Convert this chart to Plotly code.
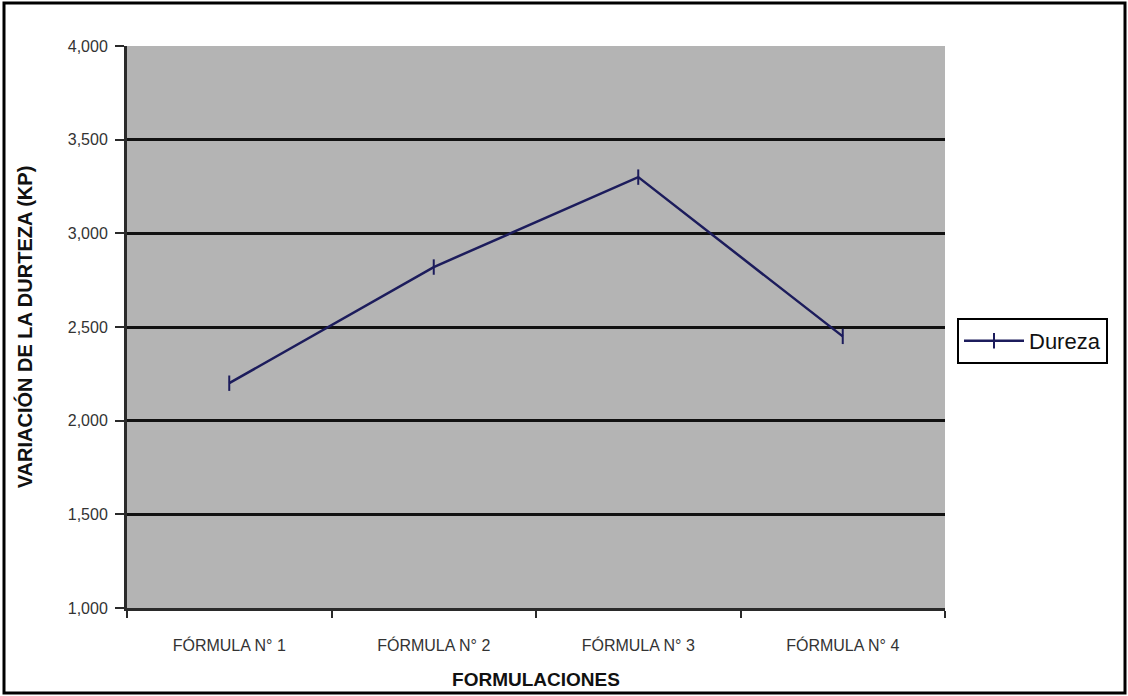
import plotly.graph_objects as go

# Hardness by formulation
formulas = ["FÓRMULA N° 1", "FÓRMULA N° 2", "FÓRMULA N° 3", "FÓRMULA N° 4"]
dureza = [2.20, 2.82, 3.30, 2.45]
y_ticks = [1.0, 1.5, 2.0, 2.5, 3.0, 3.5, 4.0]
y_tick_labels = ["1,000", "1,500", "2,000", "2,500", "3,000", "3,500", "4,000"]

W, H = 1128, 696
ML, MR, MT, MB = 127, 183, 46, 88
pw, ph = W - ML - MR, H - MT - MB

line_color = "#1c1c5c"

fig = go.Figure()
fig.add_trace(go.Scatter(
    x=formulas, y=dureza, name="Dureza", mode="lines+markers",
    line=dict(color=line_color, width=2.5),
    marker=dict(symbol="line-ns", size=11, line=dict(color=line_color, width=2)),
))

# outer frame around the whole chart
fx = lambda px: (px - ML) / pw
fy = lambda py: (H - MB - py) / ph
fig.add_shape(type="rect", xref="paper", yref="paper",
              x0=fx(4), x1=fx(W - 3), y0=fy(H - 3), y1=fy(3),
              line=dict(color="black", width=3), fillcolor="rgba(0,0,0,0)")

font_family = "Liberation Sans, Arial, sans-serif"
fig.update_layout(
    width=W, height=H,
    margin=dict(l=ML, r=MR, t=MT, b=MB),
    paper_bgcolor="white", plot_bgcolor="#b4b4b4",
    font=dict(family=font_family, size=16, color="#222"),
    showlegend=True,
    legend=dict(x=fx(957), y=fy(341), xanchor="left", yanchor="middle",
                bgcolor="white", bordercolor="black", borderwidth=2,
                itemwidth=60, font=dict(size=22, color="#111")),
    xaxis=dict(
        title=dict(text="<b>FORMULACIONES</b>", font=dict(size=19, color="#111"), standoff=20),
        automargin=False,
        showgrid=False, showline=True, linecolor="#2a2a2a", linewidth=3,
        ticks="outside", ticklen=7, tickwidth=2, tickcolor="#2a2a2a", tickson="boundaries",
        ticklabelstandoff=21,
        range=[-0.5, 3.5], tickfont=dict(size=16, color="#333"),
    ),
    yaxis=dict(
        title=dict(text="<b>VARIACIÓN DE LA DURTEZA (KP)</b>", font=dict(size=20, color="#111"), standoff=30),
        automargin=False,
        range=[1.0, 4.0], tickvals=y_ticks, ticktext=y_tick_labels,
        showgrid=True, gridcolor="#111", gridwidth=2.5,
        showline=True, linecolor="#2a2a2a", linewidth=3,
        ticks="outside", ticklen=9, tickwidth=2, tickcolor="#2a2a2a",
        ticklabelstandoff=4,
        tickfont=dict(size=16, color="#333"), zeroline=False,
    ),
)

fig.write_html("out.html")
